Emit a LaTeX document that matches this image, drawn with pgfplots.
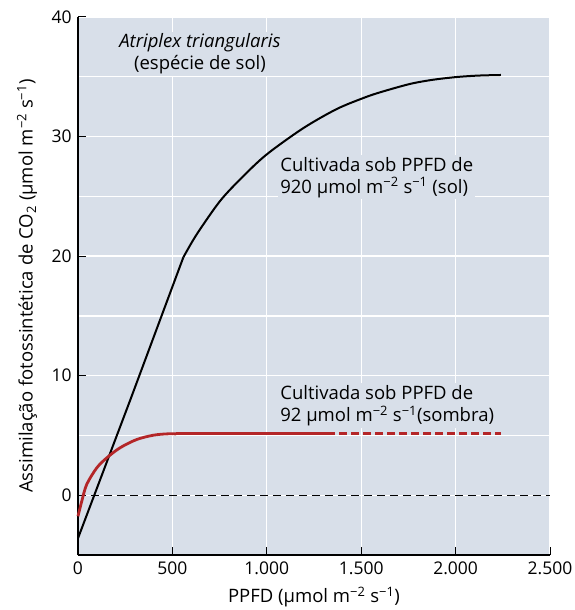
\documentclass[border=0pt]{standalone}
\usepackage{fontspec}
\setmainfont{Open Sans}
\usepackage{pgfplots}
\pgfplotsset{compat=1.18}
\definecolor{bg}{RGB}{216,223,233}
\definecolor{dred}{RGB}{180,38,40}
\begin{document}
\fontsize{18.5}{22}\selectfont
\begin{tikzpicture}
\path[use as bounding box] (-78pt,-55pt) rectangle (497pt,555pt);
\begin{axis}[
  at={(0,0)}, anchor=south west,
  scale only axis, width=472pt, height=538pt,
  xmin=0, xmax=2500, ymin=-5, ymax=40,
  axis background/.style={fill=bg},
  axis x line*=bottom, axis y line*=left,
  axis line style={black, line width=1.2pt, -},
  xtick={0,500,1000,1500,2000,2500},
  xticklabels={0,500,1.000,1.500,2.000,2.500},
  ytick={0,10,20,30,40},
  yticklabels={0,10,20,30,40},
  minor ytick={5,15,25,35},
  minor xtick={},
  xmajorgrids, ymajorgrids, yminorgrids,
  major grid style={white, line width=1.3pt},
  minor grid style={white, line width=1.3pt},
  tick align=inside,
  major tick length=8pt, minor tick length=0pt,
  tick style={black, line width=1pt},
  ticklabel style={font=\fontsize{17.5}{22}\selectfont},
  xlabel={PPFD (µmol m\textsuperscript{−2} s\textsuperscript{−1})},
  ylabel={Assimilação fotossintética de CO\textsubscript{2} (µmol m\textsuperscript{−2} s\textsuperscript{−1})},
  label style={font=\fontsize{18.5}{22}\selectfont},
  ylabel style={yshift=2pt},
  clip=false,
]
\node[fill=bg, align=center, inner sep=2pt] at (axis cs:646,36.9)
  {\textit{Atriplex triangularis}\\(espécie de sol)};
\node[fill=bg, align=left, anchor=west, inner sep=2pt] at (axis cs:1060,26.6)
  {Cultivada sob PPFD de\\920 µmol m\textsuperscript{−2} s\textsuperscript{−1} (sol)};
\node[fill=bg, align=left, anchor=west, inner sep=2pt] at (axis cs:1060,7.5)
  {Cultivada sob PPFD de\\92 µmol m\textsuperscript{−2} s\textsuperscript{−1}(sombra)};
\addplot[black, line width=0.9pt, dash pattern=on 8pt off 5pt] coordinates {(0,0) (2500,0)};
\addplot[black, line width=2pt] coordinates {(0,-3.6) (280,8.1) (558,19.9)};
\addplot[black, line width=2pt, smooth] coordinates {
(558,19.9) (628,21.8) (752,24.6) (870,26.6) (999,28.5) (1193,30.7) (1370,32.3)
(1516,33.25) (1600,33.7) (1758,34.4) (1880,34.75) (2006,34.98) (2120,35.1) (2240,35.15)};
\addplot[dred, line width=2.8pt, smooth] coordinates {
(0,-1.76) (20,-0.5) (46,0.9) (99,2.28) (152,3.12) (222,3.96) (311,4.66)
(399,5.02) (470,5.13) (520,5.13)};
\addplot[dred, line width=2.8pt] coordinates {(520,5.13) (1320,5.13)};
\addplot[dred, line width=2.8pt, dash pattern=on 8pt off 4pt] coordinates {(1320,5.13) (2240,5.13)};
\end{axis}
\end{tikzpicture}
\end{document}
